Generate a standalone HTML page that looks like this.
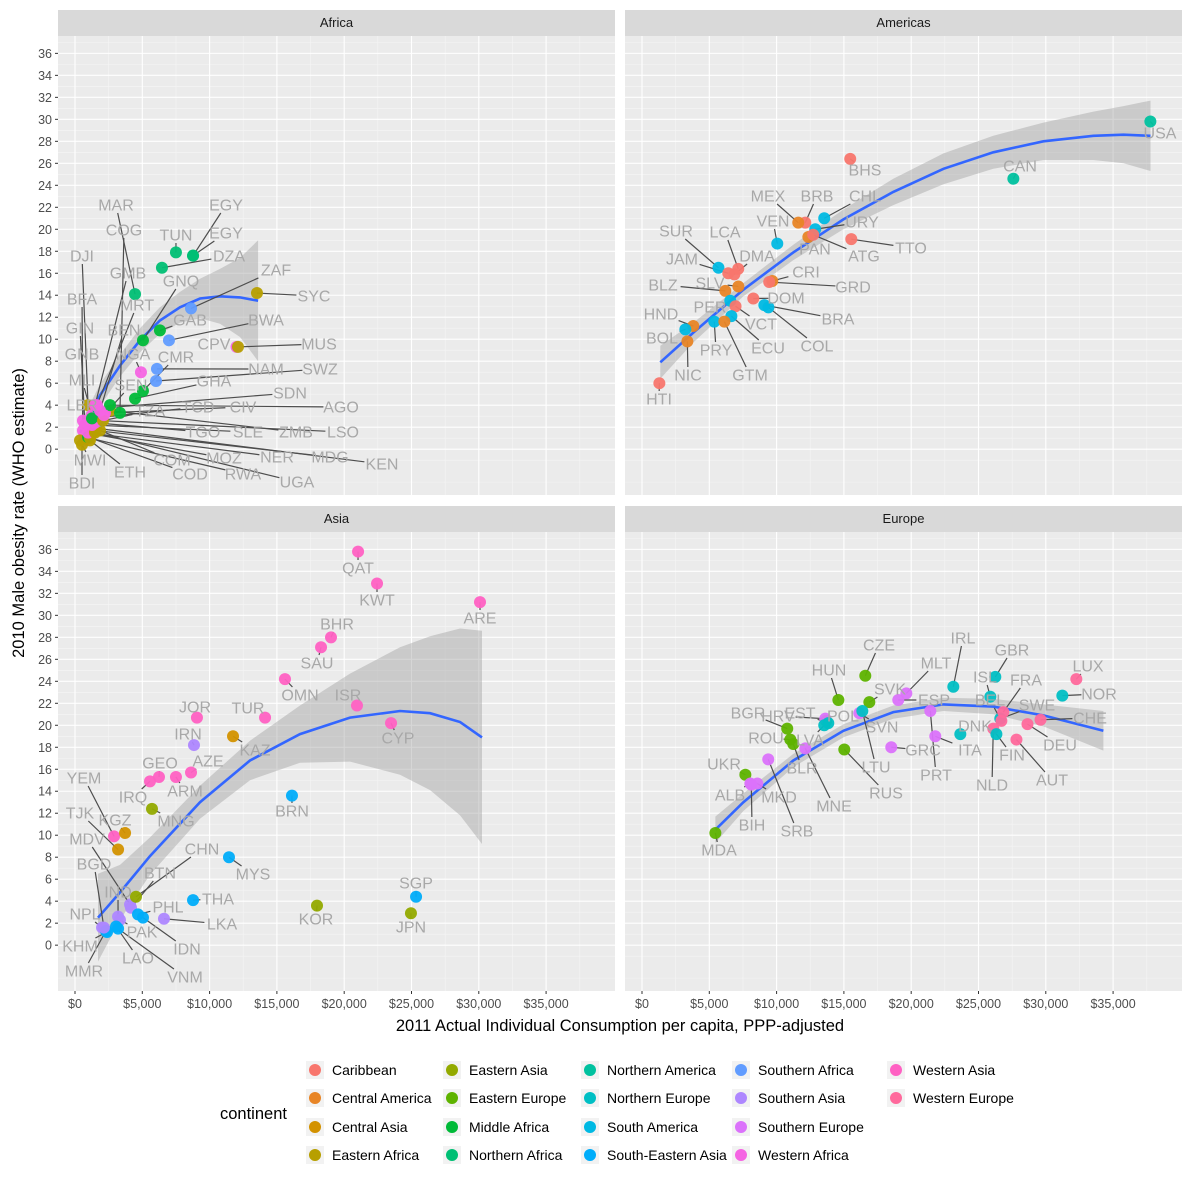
<!DOCTYPE html>
<html><head><meta charset="utf-8">
<style>
html,body{margin:0;padding:0;background:#fff;}
svg{display:block;font-family:"Liberation Sans",sans-serif;}
</style></head>
<body>
<svg id="chart" width="1191" height="1200" viewBox="0 0 1191 1200" xmlns="http://www.w3.org/2000/svg">
<rect x="0" y="0" width="1191" height="1200" fill="#fff"/>
<g id="layer"></g>
</svg>
<script>
// ---------- DATA ----------
const regions = ["Caribbean","Central America","Central Asia","Eastern Africa","Eastern Asia","Eastern Europe","Middle Africa","Northern Africa","Northern America","Northern Europe","South America","South-Eastern Asia","Southern Africa","Southern Asia","Southern Europe","Western Africa","Western Asia","Western Europe"];
const facets = ["Africa","Americas","Asia","Europe"];
const xTicks = [0,5000,10000,15000,20000,25000,30000,35000];
const xTickLabels = ["$0","$5,000","$10,000","$15,000","$20,000","$25,000","$30,000","$35,000"];
const yTicks = [0,2,4,6,8,10,12,14,16,18,20,22,24,26,28,30,32,34,36];

// Africa: code, region, consumption, obesity
const africaCodes = ["TUN","EGY","EGY","DZA","MAR","ZAF","SYC","GNQ","GAB","BWA","CPV","MUS","CMR","NGA","SWZ","NAM","GHA","DJI","BFA","GIN","GNB","MLI","LBR","MWI","BDI","ETH","COM","COD","MOZ","RWA","NER","UGA","MDG","KEN","LSO","ZMB","SLE","TGO","CIV","AGO","TCD","TZA","SDN","COG","GMB","MRT","BEN","SEN"];
const africaRegion = ["Northern Africa","Northern Africa","Northern Africa","Northern Africa","Northern Africa","Southern Africa","Eastern Africa","Middle Africa","Middle Africa","Southern Africa","Western Africa","Eastern Africa","Middle Africa","Western Africa","Southern Africa","Southern Africa","Middle Africa","Eastern Africa","Western Africa","Western Africa","Western Africa","Western Africa","Western Africa","Eastern Africa","Eastern Africa","Eastern Africa","Eastern Africa","Middle Africa","Eastern Africa","Eastern Africa","Western Africa","Eastern Africa","Eastern Africa","Eastern Africa","Southern Africa","Eastern Africa","Western Africa","Western Africa","Western Africa","Middle Africa","Middle Africa","Eastern Africa","Northern Africa","Middle Africa","Western Africa","Western Africa","Western Africa","Western Africa"];
const africaX = [7500,8770,8770,6460,4460,8620,13520,5050,6310,6980,12000,12110,5050,4900,6020,6090,4460,970,590,740,590,1260,740,370,520,1110,1860,970,1260,1110,970,1490,1490,1560,1860,2600,1260,1490,2230,2600,1260,2080,1710,3340,1490,1630,1860,2150];
const africaY = [17.9,17.6,17.6,16.5,14.1,12.8,14.2,9.9,10.8,9.9,9.3,9.3,5.3,7.0,6.2,7.3,4.6,4.0,2.6,2.2,1.7,3.1,0.8,0.8,0.4,0.8,1.7,1.1,1.4,1.0,1.5,1.5,1.7,1.9,2.6,3.5,2.2,2.4,3.3,4.0,2.8,2.6,3.7,3.3,4.0,4.0,3.5,3.1];

const amerCodes = ["USA","CAN","BHS","TTO","BRB","MEX","CHL","URY","PAN","ATG","VEN","LCA","DMA","SUR","JAM","CRI","GRD","BLZ","SLV","DOM","PER","BRA","HND","VCT","COL","BOL","ECU","NIC","PRY","GTM","HTI"];
const amerRegion = ["Northern America","Northern America","Caribbean","Caribbean","Caribbean","Central America","South America","South America","Central America","Caribbean","South America","Caribbean","Caribbean","South America","Caribbean","Central America","Caribbean","Central America","Central America","Caribbean","South America","South America","Central America","Caribbean","South America","South America","South America","Central America","South America","Central America","Caribbean"];
const amerX = [37770,27590,15470,15550,12130,11610,13540,12870,12360,12720,10050,7150,6860,5680,6410,9680,9450,6190,7160,8270,6560,9090,3810,6950,9390,3220,6640,3370,5370,6120,1290];
const amerY = [29.8,24.6,26.4,19.1,20.6,20.6,21.0,20.0,19.3,19.5,18.7,16.4,15.9,16.5,16.0,15.3,15.2,14.4,14.8,13.7,13.5,13.1,11.2,13.0,12.9,10.9,12.1,9.8,11.6,11.6,6.0];

const asiaCodes = ["QAT","KWT","ARE","BHR","SAU","OMN","ISR","CYP","TUR","KAZ","JOR","IRN","AZE","GEO","ARM","IRQ","MNG","YEM","KGZ","TJK","MDV","BRN","MYS","CHN","BTN","THA","IND","PHL","LKA","PAK","IDN","NPL","KHM","LAO","MMR","VNM","BGD","KOR","SGP","JPN"];
const asiaRegion = ["Western Asia","Western Asia","Western Asia","Western Asia","Western Asia","Western Asia","Western Asia","Western Asia","Western Asia","Central Asia","Western Asia","Southern Asia","Western Asia","Western Asia","Western Asia","Western Asia","Eastern Asia","Western Asia","Central Asia","Central Asia","Southern Asia","South-Eastern Asia","South-Eastern Asia","Eastern Asia","Southern Asia","South-Eastern Asia","Southern Asia","South-Eastern Asia","Southern Asia","Southern Asia","South-Eastern Asia","Southern Asia","South-Eastern Asia","South-Eastern Asia","South-Eastern Asia","South-Eastern Asia","Southern Asia","Eastern Asia","South-Eastern Asia","Eastern Asia"];
const asiaX = [21030,22440,30090,19020,18280,15600,20950,23480,14120,11740,9060,8840,8620,6240,7500,5570,5720,2900,3720,3200,4090,16120,11440,4530,4160,8770,3200,4680,6610,3340,5050,2010,2380,3050,2300,3200,2150,17980,25340,24960];
const asiaY = [35.8,32.9,31.2,28.0,27.1,24.2,21.8,20.2,20.7,19.0,20.7,18.2,15.7,15.3,15.3,14.9,12.4,9.9,10.2,8.7,3.7,13.6,8.0,4.4,3.4,4.1,2.6,2.8,2.4,2.3,2.5,1.6,1.2,1.7,1.3,1.5,1.6,3.6,4.4,2.9];

const euroCodes = ["LUX","NOR","CHE","DEU","AUT","NLD","FIN","SWE","DNK","GBR","IRL","ISL","FRA","BEL","MLT","ESP","ITA","GRC","PRT","SVK","CZE","SVN","LTU","RUS","HUN","POL","HRV","EST","LVA","BGR","ROU","BLR","MNE","UKR","ALB","MKD","BIH","SRB","MDA"];
const euroRegion = ["Western Europe","Northern Europe","Western Europe","Western Europe","Western Europe","Western Europe","Northern Europe","Northern Europe","Northern Europe","Northern Europe","Northern Europe","Northern Europe","Western Europe","Western Europe","Southern Europe","Southern Europe","Southern Europe","Southern Europe","Southern Europe","Eastern Europe","Eastern Europe","Southern Europe","Northern Europe","Eastern Europe","Eastern Europe","Eastern Europe","Southern Europe","Northern Europe","Northern Europe","Eastern Europe","Eastern Europe","Eastern Europe","Southern Europe","Eastern Europe","Southern Europe","Southern Europe","Southern Europe","Southern Europe","Eastern Europe"];
const euroX = [32270,31230,29610,28640,27820,26100,26330,26620,23650,26250,23130,25880,26840,26700,19640,19040,21790,18520,21420,16890,16590,16140,16370,15030,14590,13690,13620,13840,13540,10790,11020,11240,12130,7680,8050,8570,8120,9380,5450];
const euroY = [24.2,22.7,20.5,20.1,18.7,19.7,19.2,20.6,19.2,24.4,23.5,22.6,21.2,20.4,22.9,22.3,19.0,18.0,21.3,22.1,24.5,21.1,21.3,17.8,22.3,20.4,20.6,20.2,20.0,19.7,18.7,18.3,17.9,15.5,14.7,14.7,14.6,16.9,10.2];

// smoother fits
const africaFitX = [370,1860,3340,4830,6310,7800,9290,10770,12260,13600];
const africaFitY = [1.5,4.9,7.6,9.9,11.7,12.9,13.7,13.9,13.8,13.5];
const africaFitSE = [0.8,1.0,1.0,1.1,1.2,1.4,1.8,2.5,3.6,5.5];
const amerFitX = [1360,3810,7530,11240,14960,18670,22400,26100,29820,33540,35770,37780];
const amerFitY = [7.9,10.6,14.5,17.9,20.9,23.4,25.5,27.0,28.0,28.5,28.6,28.5];
const amerFitSE = [1.5,0.9,0.6,0.7,0.9,1.2,1.4,1.5,1.7,2.2,2.6,3.2];
const asiaFitX = [1710,3340,5570,9290,13000,16720,20430,24150,26380,28610,30240];
const asiaFitY = [2.5,4.8,8.1,13.0,16.8,19.2,20.7,21.3,21.1,20.3,18.9];
const asiaFitSE = [4.0,2.5,1.7,1.5,1.8,2.6,4.0,5.8,7.0,8.5,9.7];
const euroFitX = [5450,7530,11240,14960,18670,22400,26100,29820,34280];
const euroFitY = [10.5,13.0,16.8,19.5,21.2,21.9,21.7,20.9,19.5];
const euroFitSE = [1.2,0.8,0.6,0.6,0.6,0.6,0.7,1.0,1.8];

// ---------- LAYOUT (label placement, page pixels) ----------
const africaLabelAt = [[176,235],[226,205],[226,233],[229,256],[116,205],[276,270],[314,296],[181,281],[190,320],[266,320],[214,344],[319,344],[176,357],[133,354],[320,369],[266,369],[214,381],[82,256],[82,299],[80,328],[82,354],[82,380],[82,405],[90,460],[82,483],[130,472],[172,460],[190,474],[224,458],[243,474],[277,457],[297,482],[330,457],[382,464],[343,432],[296,432],[248,432],[203,432],[243,407],[341,407],[198,407],[150,411],[290,393],[124,230],[128,273],[137,305],[124,330],[131,385]];
const amerLabelAt = [[1160,133],[1020,166],[865,170],[911,248],[817,196],[768,196],[865,196],[862,222],[815,249],[864,256],[773,221],[725,232],[757,256],[676,231],[682,259],[806,272],[853,287],[663,285],[710,283],[786,298],[710,307],[838,319],[661,314],[761,324],[817,346],[662,338],[768,348],[688,375],[716,350],[750,375],[659,399]];
const asiaLabelAt = [[358,568],[377,600],[480,618],[337,624],[317,663],[300,695],[348,695],[398,738],[248,708],[255,750],[195,707],[188,734],[208,761],[160,763],[185,791],[133,797],[176,821],[84,778],[115,820],[80,813],[87,839],[292,811],[253,874],[202,849],[160,873],[218,899],[118,892],[168,907],[222,924],[142,932],[187,949],[85,914],[80,946],[138,958],[84,971],[185,977],[94,864],[316,919],[416,883],[411,927]];
const euroLabelAt = [[1088,666],[1099,694],[1090,718],[1060,745],[1052,780],[992,785],[1012,755],[1037,705],[975,726],[1012,650],[963,638],[985,677],[1026,680],[990,700],[936,663],[934,700],[970,750],[923,750],[936,775],[890,689],[879,645],[882,727],[876,767],[886,793],[829,670],[843,716],[778,716],[800,713],[810,740],[748,713],[766,738],[802,768],[834,806],[724,764],[730,795],[779,797],[752,825],[797,831],[719,850]];

const PANEL_W = 557, PANEL_H = 459;
const XMIN = -1263, XMAX = 40120, YMIN = -4.17, YMAX = 37.58;
const panels = {
  Africa:{x0:58,y0:36}, Americas:{x0:625,y0:36}, Asia:{x0:58,y0:532}, Europe:{x0:625,y0:532}
};

// ---------- HELPERS ----------
const NS = "http://www.w3.org/2000/svg";
const layer = document.getElementById("layer");
function mk(tag, attrs, parent){
  const e = document.createElementNS(NS, tag);
  for (const k in attrs) e.setAttribute(k, attrs[k]);
  (parent||layer).appendChild(e);
  return e;
}
function hcl(h, c, l){
  const hr = h*Math.PI/180, u = c*Math.cos(hr), v = c*Math.sin(hr);
  const Xn=95.047, Yn=100, Zn=108.883;
  const un = 4*Xn/(Xn+15*Yn+3*Zn), vn = 9*Yn/(Xn+15*Yn+3*Zn);
  const Y = Yn*Math.pow((l+16)/116,3);
  const up = u/(13*l)+un, vp = v/(13*l)+vn;
  const X = Y*9*up/(4*vp), Z = Y*(12-3*up-20*vp)/(4*vp);
  const x=X/100, y=Y/100, z=Z/100;
  let r = 3.2404542*x-1.5371385*y-0.4985314*z;
  let g = -0.9692660*x+1.8760108*y+0.0415560*z;
  let b = 0.0556434*x-0.2040259*y+1.0572252*z;
  const gam = t => { t = t<=0.0031308 ? 12.92*t : 1.055*Math.pow(t,1/2.4)-0.055; return Math.round(Math.max(0,Math.min(1,t))*255); };
  return "rgb("+gam(r)+","+gam(g)+","+gam(b)+")";
}
const regionColor = {};
regions.forEach((r,i)=>{ regionColor[r] = hcl(15+360*i/regions.length, 100, 65); });

function sx(p, v){ return p.x0 + (v-XMIN)/(XMAX-XMIN)*PANEL_W; }
function sy(p, v){ return p.y0 + (YMAX-v)/(YMAX-YMIN)*PANEL_H; }

// ---------- PANELS ----------
facets.forEach(f=>{
  const p = panels[f];
  const g = mk("g", {});
  
  
  const bg = mk("rect",{x:p.x0,y:p.y0,width:PANEL_W,height:PANEL_H,fill:"#ebebeb"},g);
  
  
  // minor grid
  for (let v=-2500; v<=XMAX; v+=5000){ if (v<XMIN) continue; const x=sx(p,v);
    mk("line",{x1:x,x2:x,y1:p.y0,y2:p.y0+PANEL_H,stroke:"#f5f5f5","stroke-width":0.6},g); }
  for (let v=-3; v<=37; v+=2){ const y=sy(p,v);
    mk("line",{x1:p.x0,x2:p.x0+PANEL_W,y1:y,y2:y,stroke:"#f5f5f5","stroke-width":0.6},g); }
  xTicks.forEach(v=>{ const x=sx(p,v);
    mk("line",{x1:x,x2:x,y1:p.y0,y2:p.y0+PANEL_H,stroke:"#fff","stroke-width":1.1},g); });
  yTicks.forEach(v=>{ const y=sy(p,v);
    mk("line",{x1:p.x0,x2:p.x0+PANEL_W,y1:y,y2:y,stroke:"#fff","stroke-width":1.1},g); });
  // strip
  const st = mk("rect",{x:p.x0,y:p.y0-26,width:PANEL_W,height:26,fill:"#d9d9d9"},g);
  
  
  const stt = mk("text",{x:p.x0+PANEL_W/2,y:p.y0-9,"text-anchor":"middle","font-size":13,fill:"#1a1a1a"},g);
  stt.textContent = f;
  
  
});

// y axes (left panels)
["Africa","Asia"].forEach(f=>{
  const p = panels[f];
  yTicks.forEach(v=>{ const y=sy(p,v);
    mk("line",{x1:p.x0-3,x2:p.x0,y1:y,y2:y,stroke:"#333","stroke-width":1});
    const t = mk("text",{x:p.x0-6,y:y+4.5,"text-anchor":"end","font-size":12.5,fill:"#4d4d4d"});
    t.textContent = String(v);
    
    
  });
});
// x axes (bottom panels)
["Asia","Europe"].forEach(f=>{
  const p = panels[f];
  xTicks.forEach((v,i)=>{ const x=sx(p,v), y=p.y0+PANEL_H;
    mk("line",{x1:x,x2:x,y1:y,y2:y+3,stroke:"#333","stroke-width":1});
    const t = mk("text",{x:x,y:y+17,"text-anchor":"middle","font-size":12.5,fill:"#4d4d4d"});
    t.textContent = xTickLabels[i];
    
    
  });
});
const xt = mk("text",{x:620,y:1031,"text-anchor":"middle","font-size":16.5,fill:"#000"});
xt.textContent = "2011 Actual Individual Consumption per capita, PPP-adjusted";


const yt = mk("text",{x:0,y:0,"text-anchor":"middle","font-size":16.5,fill:"#000",transform:"translate(24,513) rotate(-90)"});
yt.textContent = "2010 Male obesity rate (WHO estimate)";



// ---------- SERIES ----------
function drawFit(p, fx, fy, se, name){
  let up = "", lo = "", line = "";
  fx.forEach((v,i)=>{
    up += (i?"L":"M")+sx(p,v).toFixed(1)+","+sy(p,fy[i]+se[i]).toFixed(1);
    line += (i?"L":"M")+sx(p,v).toFixed(1)+","+sy(p,fy[i]).toFixed(1);
  });
  for (let i=fx.length-1;i>=0;i--) lo += "L"+sx(p,fx[i]).toFixed(1)+","+sy(p,fy[i]-se[i]).toFixed(1);
  const band = mk("path",{d:up+lo+"Z",fill:"#999999","fill-opacity":0.4});
  
  
  const ln = mk("path",{d:line,fill:"none",stroke:"#3366FF","stroke-width":2.6});
  
  
}
function drawPoints(p, codes, reg, xs, ys, labelAt, name){
  const segs = mk("g",{}), pts = mk("g",{}), labs = mk("g",{});
  codes.forEach((c,i)=>{
    const px = sx(p,xs[i]), py = sy(p,ys[i]);
    const pt = mk("circle",{cx:px,cy:py,r:6,fill:regionColor[reg[i]],"fill-opacity":0.95},pts);
    
    
    const la = labelAt[i]; if (!la) return;
    const lx = la[0], ly = la[1];
    const hw = c.length*5.2+2, hh = 8;
    const dx = px-lx, dy = py-ly;
    if (Math.abs(dx) > hw+3 || Math.abs(dy) > hh+3){
      const s = Math.min(Math.abs(dx)>0?hw/Math.abs(dx):1e9, Math.abs(dy)>0?hh/Math.abs(dy):1e9);
      const ex = lx+dx*Math.min(s,1), ey = ly+dy*Math.min(s,1);
      const sg = mk("line",{x1:px,y1:py,x2:ex,y2:ey,stroke:"#4d4d4d","stroke-width":1.2},segs);
      
      
    }
    const t = mk("text",{x:lx,y:ly+5.5,"text-anchor":"middle","font-size":16,fill:"#a8a8a8"},labs);
    t.textContent = c;
    
    
  });
}
drawFit(panels.Africa, africaFitX, africaFitY, africaFitSE, "africa");
drawFit(panels.Americas, amerFitX, amerFitY, amerFitSE, "americas");
drawFit(panels.Asia, asiaFitX, asiaFitY, asiaFitSE, "asia");
drawFit(panels.Europe, euroFitX, euroFitY, euroFitSE, "europe");
drawPoints(panels.Africa, africaCodes, africaRegion, africaX, africaY, africaLabelAt, "africa");
drawPoints(panels.Americas, amerCodes, amerRegion, amerX, amerY, amerLabelAt, "americas");
drawPoints(panels.Asia, asiaCodes, asiaRegion, asiaX, asiaY, asiaLabelAt, "asia");
drawPoints(panels.Europe, euroCodes, euroRegion, euroX, euroY, euroLabelAt, "europe");

// ---------- LEGEND ----------
const lt = mk("text",{x:220,y:1119,"font-size":16.5,fill:"#000"});
lt.textContent = "continent";


const colX = [315,452,590,741,896], rowY = [1070,1098,1127,1155];
regions.forEach((r,i)=>{
  const cx = colX[Math.floor(i/4)], cy = rowY[i%4];
  const g = mk("g",{});
  
  
  mk("rect",{x:cx-9,y:cy-9,width:18,height:18,fill:"#f2f2f2"},g);
  mk("circle",{cx:cx,cy:cy,r:6,fill:regionColor[r]},g);
  const t = mk("text",{x:cx+17,y:cy+5,"font-size":14,fill:"#000"},g);
  t.textContent = r;
});
</script>
</body></html>
